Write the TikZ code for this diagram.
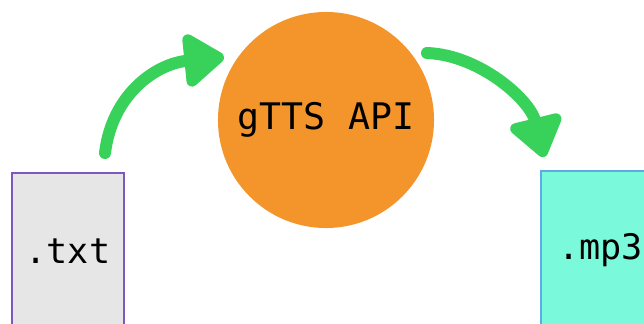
\documentclass[tikz,border=0pt]{standalone}
\usepackage{fontspec}
\setmonofont{DejaVu Sans Mono}
\usetikzlibrary{arrows.meta}

\definecolor{apiorange}{RGB}{243,149,43}
\definecolor{flowgreen}{RGB}{56,209,90}
\definecolor{txtgray}{RGB}{230,230,230}
\definecolor{txtpurple}{RGB}{126,87,194}
\definecolor{mpaqua}{RGB}{122,250,219}
\definecolor{mpblue}{RGB}{93,170,230}

\tikzset{
  filebox/.style={rectangle, line width=1.2pt, inner sep=0pt, font=\ttfamily\fontsize{25}{25}\selectfont},
  flow/.style={line width=0.3cm, flowgreen, line cap=round,
    -{Triangle[length=1.1cm, width=1.5cm, round]}}
}

\begin{document}
\begin{tikzpicture}[x=0.025cm, y=-0.025cm]

% Frame
\useasboundingbox (0,0) rectangle (644,323);

% Files
\node[filebox, fill=txtgray, draw=txtpurple, minimum width=2.8cm, minimum height=3.925cm]
  (txt) at (68,251.5) {.txt};
\node[filebox, fill=mpaqua, draw=mpblue, minimum width=2.975cm, minimum height=3.975cm]
  (mp3) at (600.5,250.5) {.mp3};

% API
\node[circle, fill=apiorange, minimum size=5.4cm, inner sep=0pt,
  font=\ttfamily\fontsize{26}{26}\selectfont] (api) at (326,120) {\raisebox{-4pt}{gTTS API}};

% Arrows
\coordinate (in) at (105,153);
\coordinate (inend) at (224,57);
\coordinate (out) at (427,53);
\coordinate (outend) at (544,157);
\draw[flow] (in) .. controls (112,95) and (155,64) .. (inend);
\draw[flow] (out) .. controls (480,55) and (530,100) .. (outend);

\end{tikzpicture}
\end{document}
